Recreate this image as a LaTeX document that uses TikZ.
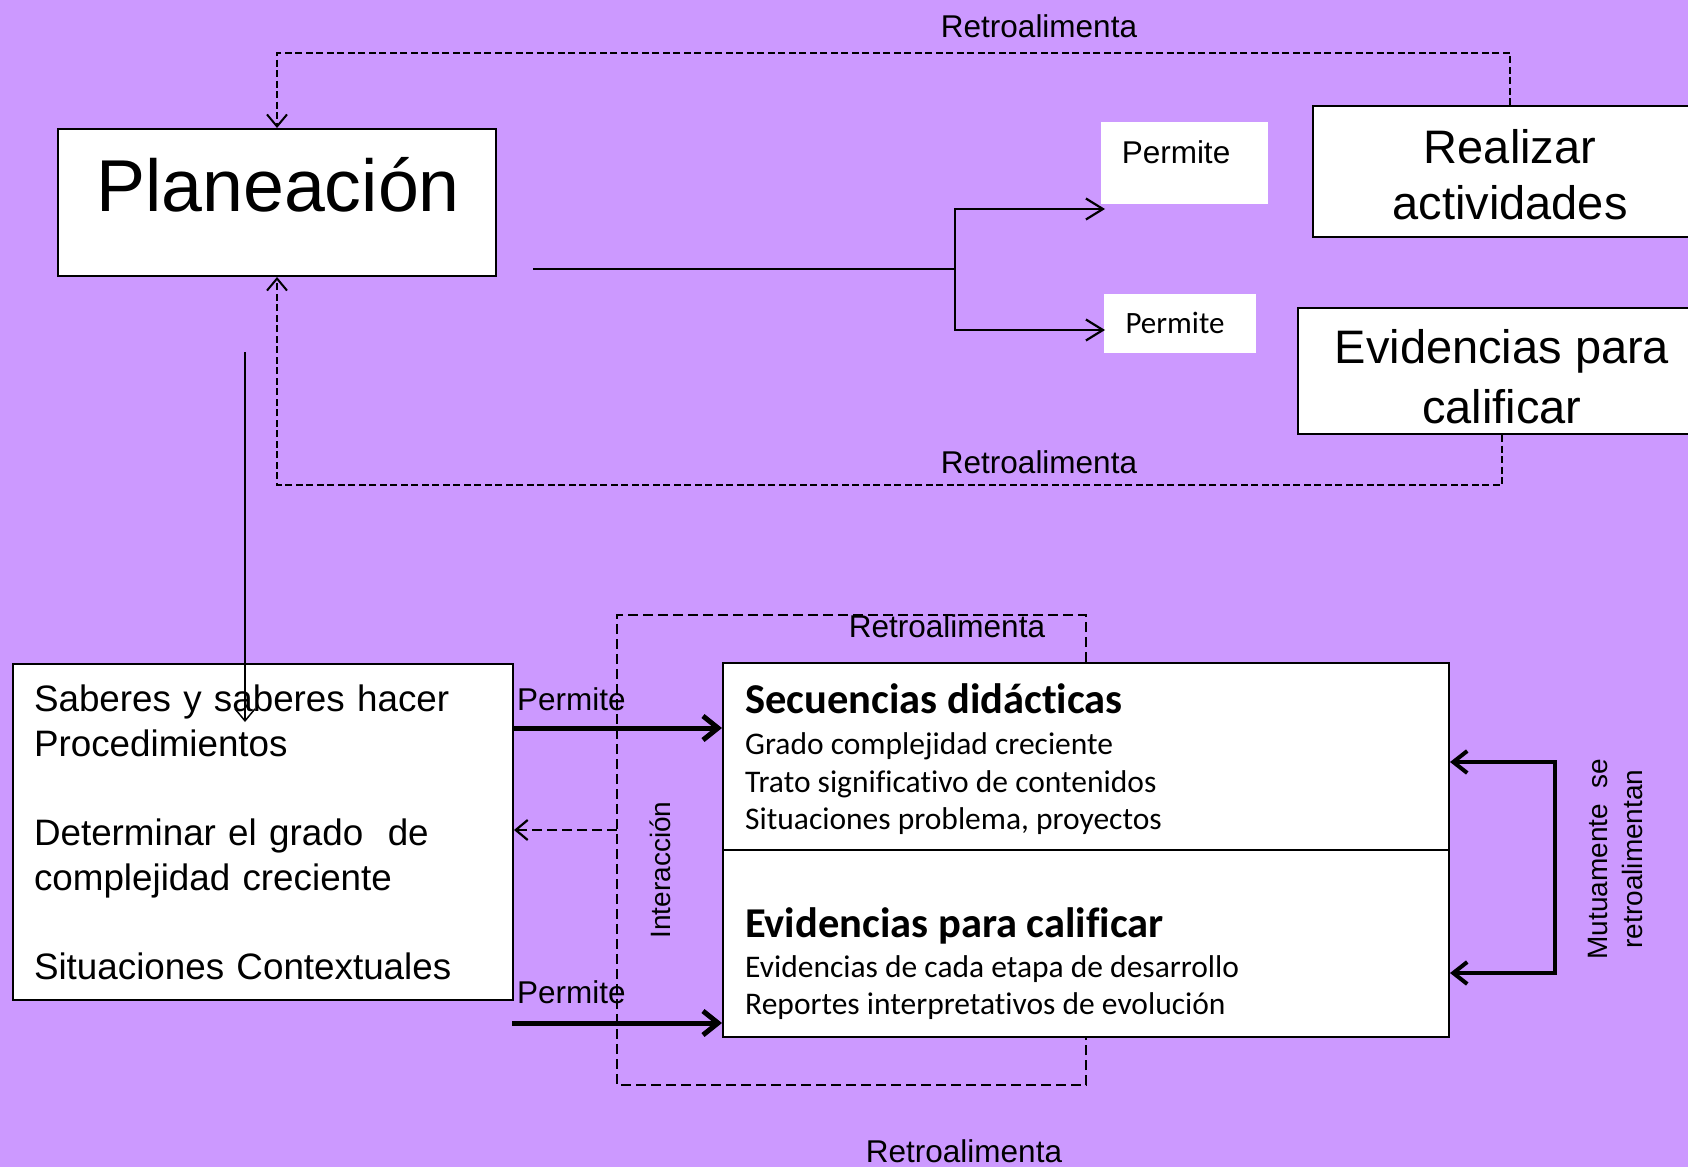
\documentclass[tikz,border=0pt]{standalone}
\usepackage{fontspec}
\setmainfont{Liberation Sans}
\newfontfamily\calibri[Ligatures=NoCommon]{Carlito}
\definecolor{back}{RGB}{204,153,255}
\usetikzlibrary{
	arrows.meta,
	positioning
}
\tikzset{
  % arrow
	cstra/.style      ={-{Straight Barb[length=12pt,width=20pt]}},  % thin arrow
	cstmra/.style     ={-{Straight Barb[length=17pt,width=21pt]}, line width=2.2pt},
	cstnra/.style     ={-{Straight Barb[length=15pt,width=24pt]}, line width=5pt},
	cstlra/.style     ={{Straight Barb[length=14pt,width=22pt]}-{Straight Barb[length=14pt,width=22pt]}, line width=4pt},
  % curve
	cstline/.style    ={line width=1.5pt},
	cstdash/.style    ={line width=2pt, dash pattern=on 7pt off 3.5pt},   % long feedback
	cstdashb/.style   ={line width=2.5pt, dash pattern=on 10pt off 5pt},  % interaction frame
  % node
	cstnode/.style    ={fill=white, draw=black, line width=2pt, inner sep=0pt},
	cstwhite/.style   ={fill=white, inner sep=0pt},
	cstlabel/.style   ={inner sep=0pt, font=\fontsize{31.5}{36}\selectfont},
	cstbig/.style     ={inner sep=0pt, align=center},
	cstcal/.style     ={inner sep=0pt, align=left, font=\calibri\fontsize{31.5}{37.5}\selectfont}
}
\newcommand{\cabeza}[1]{{\bfseries\fontsize{42.5}{37.5}\selectfont #1}}
\begin{document}
\begin{tikzpicture}[x=1pt,y=-1pt]
	\useasboundingbox (0,0) rectangle (1688,1167);
	\fill[back] (0,0) rectangle (1688,1167);
	% upper part
	\node[cstnode, minimum width=438pt, minimum height=147pt] (plan) at (277,202.5) {};
	\node[inner sep=0pt, anchor=base, font=\fontsize{73.5}{88}\selectfont] (plantxt) at (278,211) {Planeación};
	\node[cstnode, minimum width=394pt, minimum height=131pt] (realizar) at (1510,171.5) {};
	\node[cstbig, font=\fontsize{47}{56}\selectfont] (realizartxt) at (1510,175) {Realizar\\actividades};
	\node[cstnode, minimum width=408pt, minimum height=126pt] (evid) at (1502,371) {};
	\node[cstbig, font=\fontsize{47}{60}\selectfont] (evidtxtA) at (1502,377) {Evidencias para\\calificar};
	\node[cstwhite, minimum width=167pt, minimum height=82pt] (permA) at (1184.5,163) {};
	\node[cstlabel, anchor=base] (permAtxt) at (1176,163) {Permite};
	\node[cstwhite, minimum width=152pt, minimum height=59pt] (permB) at (1180,323.5) {};
	\node[cstlabel, anchor=base, font=\calibri\fontsize{31}{36}\selectfont] (permBtxt) at (1175,333) {Permite};
	\coordinate (planout) at (533,269);
	\coordinate (split) at (955,269);
	\coordinate (permAin) at (1105,209);
	\coordinate (permBin) at (1105,330);
	\draw[cstline] (planout) -- (split);
	\draw[cstmra] (split) |- (permAin);
	\draw[cstmra] (split) |- (permBin);
	\coordinate (topturn) at (277,53);
	\coordinate (botturn) at (277,485);
	\draw[cstdash, cstra] (realizar.north) |- (topturn) -- (plan.north);
	\draw[cstdash, cstra] (evid.south) |- (botturn) -- (plan.south);
	\node[cstlabel, anchor=base] (retroA) at (1039,37) {Retroalimenta};
	\node[cstlabel, anchor=base] (retroB) at (1039,473) {Retroalimenta};
	% lower part
	\node[cstnode, anchor=north west, minimum width=500pt, minimum height=336pt, text width=458pt, inner xsep=21pt, align=left, font=\fontsize{36.8}{45}\selectfont] (saberes) at (12,663) {Saberes y saberes hacer\\Procedimientos\\[44pt]Determinar el grado\ \ de\\complejidad creciente\\[44pt]Situaciones Contextuales};
	\coordinate (bajada) at (245,352);
	\coordinate (sabin) at (245,722);
	\draw[cstline, cstra] (bajada) -- (sabin);
	\node[cstnode, minimum width=726pt, minimum height=374pt] (secu) at (1086,850) {};
	\draw[line width=1.2pt] (secu.west) -- (secu.east);
	\node[cstcal, anchor=north west] (secutxt) at (745,683) {\cabeza{Secuencias didácticas}\\[4pt]Grado complejidad creciente\\Trato significativo de contenidos\\Situaciones problema, proyectos};
	\node[cstcal, anchor=north west] (evidtxt) at (745,907) {\cabeza{Evidencias para calificar}\\[2.5pt]Evidencias de cada etapa de desarrollo\\Reportes interpretativos de evolución};
	\coordinate (permbot) at (512,1023);
	\draw[cstnra] (saberes.east |- 0,728) -- (secu.west |- 0,728);
	\draw[cstnra] (permbot) -- (permbot -| secu.west);
	\node[cstlabel, anchor=base west] (permC) at (517,710) {Permite};
	\node[cstlabel, anchor=base west] (permD) at (517,1003) {Permite};
	\coordinate (frameTL) at (617,615);
	\coordinate (frameBL) at (617,1085);
	\draw[cstdashb] (secu.north) |- (frameTL) -- (frameBL) -| (secu.south);
	\draw[cstdashb, cstra, line width=2.2pt] (frameTL |- 0,830) -- (saberes.east |- 0,830);
	\node[cstlabel, rotate=90, font=\fontsize{28}{34}\selectfont] (inter) at (660,870) {Interacción};
	\node[cstlabel, anchor=base] (retroC) at (947,637) {Retroalimenta};
	\node[cstlabel, anchor=base] (retroD) at (964,1162) {Retroalimenta};
	\coordinate (fbA) at (1555,762);
	\coordinate (fbB) at (1555,973);
	\draw[cstlra] (secu.east |- fbA) -- (fbA) -- (fbB) -- (secu.east |- fbB);
	\node[cstlabel, rotate=90, align=center, font=\fontsize{28}{35}\selectfont] (mutua) at (1615,859) {Mutuamente\ \ se\\retroalimentan};
\end{tikzpicture}
\end{document}
